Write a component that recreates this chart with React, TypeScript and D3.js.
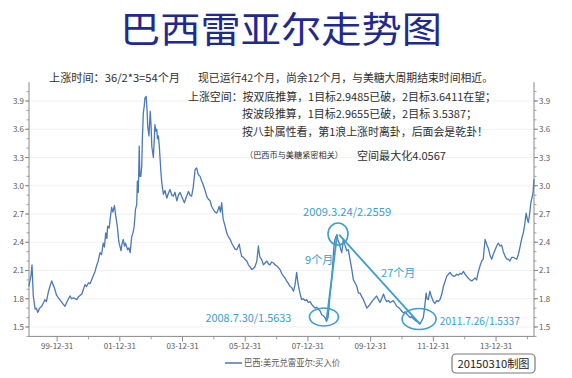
import React from 'react';
import * as d3 from 'd3';

// ---- series: USD/BRL buy rate (decimal year, value) ----
const years = [
  1999.10, 1999.17, 1999.20, 1999.24, 1999.30, 1999.34, 1999.38, 1999.44, 1999.51, 1999.57,
  1999.61, 1999.66, 1999.72, 1999.77, 1999.83, 1999.87, 1999.91, 1999.98, 2000.04, 2000.11,
  2000.20, 2000.25, 2000.32, 2000.41, 2000.46, 2000.52, 2000.63, 2000.68, 2000.79, 2000.84,
  2000.89, 2000.94, 2001.00, 2001.05, 2001.10, 2001.16, 2001.21, 2001.26, 2001.31, 2001.37,
  2001.42, 2001.47, 2001.51, 2001.55, 2001.59, 2001.61, 2001.66, 2001.69, 2001.74, 2001.78,
  2001.83, 2001.87, 2001.90, 2001.93, 2001.96, 2001.98, 2002.04, 2002.07, 2002.11, 2002.15,
  2002.18, 2002.25, 2002.29, 2002.33, 2002.38, 2002.42, 2002.46, 2002.50, 2002.54, 2002.56,
  2002.59, 2002.62, 2002.64, 2002.67, 2002.70, 2002.72, 2002.75, 2002.78, 2002.80, 2002.84,
  2002.87, 2002.89, 2002.93, 2002.97, 2003.00, 2003.02, 2003.07, 2003.10, 2003.12, 2003.15,
  2003.18, 2003.20, 2003.23, 2003.26, 2003.28, 2003.31, 2003.34, 2003.39, 2003.44, 2003.50,
  2003.55, 2003.60, 2003.66, 2003.71, 2003.76, 2003.82, 2003.87, 2003.92, 2003.98, 2004.06,
  2004.11, 2004.19, 2004.24, 2004.29, 2004.34, 2004.40, 2004.45, 2004.50, 2004.56, 2004.61,
  2004.66, 2004.72, 2004.77, 2004.82, 2004.88, 2004.93, 2004.98, 2005.04, 2005.09, 2005.13,
  2005.17, 2005.21, 2005.25, 2005.28, 2005.30, 2005.36, 2005.41, 2005.46, 2005.52, 2005.57,
  2005.62, 2005.67, 2005.73, 2005.77, 2005.81, 2005.85, 2005.89, 2005.94, 2005.99, 2006.05,
  2006.10, 2006.15, 2006.21, 2006.26, 2006.31, 2006.37, 2006.42, 2006.44, 2006.47, 2006.52,
  2006.58, 2006.63, 2006.69, 2006.74, 2006.79, 2006.84, 2006.90, 2006.95, 2007.00, 2007.06,
  2007.11, 2007.16, 2007.22, 2007.27, 2007.32, 2007.38, 2007.43, 2007.48, 2007.54, 2007.59,
  2007.64, 2007.68, 2007.72, 2007.76, 2007.80, 2007.85, 2007.91, 2007.96, 2008.01, 2008.07,
  2008.12, 2008.17, 2008.23, 2008.28, 2008.33, 2008.39, 2008.44, 2008.49, 2008.54, 2008.59,
  2008.64, 2008.67, 2008.70, 2008.75, 2008.79, 2008.82, 2008.86, 2008.92, 2008.96, 2009.00,
  2009.04, 2009.08, 2009.13, 2009.17, 2009.24, 2009.29, 2009.34, 2009.40, 2009.45, 2009.50,
  2009.56, 2009.61, 2009.66, 2009.72, 2009.77, 2009.82, 2009.88, 2009.93, 2009.98, 2010.04,
  2010.09, 2010.14, 2010.19, 2010.25, 2010.30, 2010.35, 2010.41, 2010.46, 2010.51, 2010.57,
  2010.62, 2010.67, 2010.72, 2010.78, 2010.83, 2010.88, 2010.94, 2010.99, 2011.04, 2011.10,
  2011.15, 2011.20, 2011.26, 2011.31, 2011.36, 2011.42, 2011.47, 2011.52, 2011.57, 2011.62,
  2011.68, 2011.72, 2011.77, 2011.80, 2011.84, 2011.89, 2011.94, 2012.00, 2012.05, 2012.11,
  2012.16, 2012.21, 2012.27, 2012.32, 2012.37, 2012.43, 2012.48, 2012.53, 2012.59, 2012.64,
  2012.69, 2012.74, 2012.80, 2012.85, 2012.90, 2012.96, 2013.01, 2013.06, 2013.11, 2013.17,
  2013.22, 2013.27, 2013.33, 2013.38, 2013.43, 2013.49, 2013.54, 2013.59, 2013.65, 2013.70,
  2013.75, 2013.81, 2013.86, 2013.91, 2013.97, 2014.02, 2014.07, 2014.13, 2014.18, 2014.23,
  2014.29, 2014.34, 2014.39, 2014.44, 2014.50, 2014.55, 2014.60, 2014.66, 2014.71, 2014.77,
  2014.82, 2014.87, 2014.91, 2014.96, 2015.00, 2015.03, 2015.07, 2015.11, 2015.15, 2015.18,
  2015.21,
];
const usdBrl = [
  1.93, 2.05, 2.16, 1.83, 1.69, 1.70, 1.655, 1.70, 1.72, 1.76,
  1.79, 1.77, 1.87, 1.93, 1.99, 1.95, 1.92, 1.84, 1.81, 1.78,
  1.74, 1.72, 1.77, 1.83, 1.80, 1.81, 1.79, 1.82, 1.85, 1.90,
  1.95, 1.93, 1.97, 1.96, 2.00, 2.05, 2.09, 2.15, 2.20, 2.29,
  2.27, 2.39, 2.35, 2.50, 2.44, 2.57, 2.55, 2.64, 2.77, 2.72,
  2.79, 2.68, 2.62, 2.54, 2.43, 2.39, 2.31, 2.38, 2.43, 2.36,
  2.39, 2.32, 2.34, 2.29, 2.46, 2.50, 2.57, 2.75, 2.80, 3.05,
  2.93, 3.42, 3.10, 3.10, 3.21, 3.50, 3.77, 3.85, 3.93, 3.95,
  3.80, 3.63, 3.53, 3.79, 3.62, 3.42, 3.30, 3.50, 3.65, 3.58,
  3.60, 3.50, 3.53, 3.42, 3.31, 3.15, 3.03, 2.91, 2.95, 2.87,
  2.92, 2.96, 2.90, 2.89, 2.93, 2.84, 2.90, 2.93, 2.88, 2.82,
  2.87, 2.94, 2.90, 2.89, 2.98, 3.17, 3.19, 3.12, 3.10, 3.05,
  3.01, 2.95, 2.89, 2.86, 2.84, 2.78, 2.75, 2.72, 2.71, 2.74,
  2.78, 2.72, 2.82, 2.70, 2.64, 2.57, 2.50, 2.46, 2.43, 2.39,
  2.36, 2.33, 2.32, 2.35, 2.38, 2.30, 2.25, 2.24, 2.22, 2.20,
  2.16, 2.14, 2.11, 2.12, 2.14, 2.20, 2.36, 2.30, 2.24, 2.22,
  2.16, 2.18, 2.20, 2.17, 2.16, 2.19, 2.18, 2.16, 2.15, 2.13,
  2.11, 2.07, 2.04, 2.02, 1.99, 1.96, 1.93, 1.92, 1.88, 1.95,
  2.08, 1.97, 1.90, 1.84, 1.79, 1.80, 1.78, 1.79, 1.76, 1.77,
  1.74, 1.72, 1.70, 1.71, 1.69, 1.67, 1.63, 1.62, 1.60, 1.56,
  1.60, 1.70, 1.83, 1.98, 2.15, 2.32, 2.43, 2.48, 2.42, 2.39,
  2.33, 2.29, 2.43, 2.38, 2.31, 2.32, 2.22, 2.11, 2.00, 1.97,
  1.93, 1.86, 1.86, 1.82, 1.79, 1.75, 1.70, 1.72, 1.74, 1.77,
  1.79, 1.81, 1.83, 1.79, 1.76, 1.80, 1.85, 1.80, 1.77, 1.78,
  1.76, 1.77, 1.78, 1.75, 1.72, 1.71, 1.69, 1.67, 1.65, 1.66,
  1.64, 1.62, 1.60, 1.61, 1.59, 1.57, 1.56, 1.55, 1.53, 1.56,
  1.60, 1.70, 1.86, 1.80, 1.79, 1.88, 1.82, 1.77, 1.75, 1.78,
  1.77, 1.79, 1.85, 1.93, 1.98, 2.04, 2.06, 2.08, 2.05, 2.04,
  2.04, 2.06, 2.05, 2.07, 2.06, 2.09, 2.06, 2.04, 2.02, 2.00,
  1.99, 2.00, 2.02, 2.00, 2.08, 2.15, 2.20, 2.22, 2.43, 2.38,
  2.34, 2.26, 2.22, 2.27, 2.32, 2.36, 2.39, 2.36, 2.37, 2.30,
  2.25, 2.22, 2.22, 2.20, 2.24, 2.24, 2.23, 2.22, 2.27, 2.36,
  2.44, 2.50, 2.58, 2.71, 2.64, 2.61, 2.70, 2.82, 2.88, 2.93,
  3.07,
];

// ---- axes ----
const yTicks = [1.5, 1.8, 2.1, 2.4, 2.7, 3.0, 3.3, 3.6, 3.9];
const yMinorTicks = [1.4, 1.5, 1.6, 1.7, 1.8, 1.9, 2.0, 2.1, 2.2, 2.3, 2.4, 2.5, 2.6, 2.7, 2.8, 2.9, 3.0, 3.1, 3.2, 3.3, 3.4, 3.5, 3.6, 3.7, 3.8, 3.9, 4.0];
const xTickYears = [2000, 2002, 2004, 2006, 2008, 2010, 2012, 2014];
const xTickLabels = ['99-12-31', '01-12-31', '03-12-31', '05-12-31', '07-12-31', '09-12-31', '11-12-31', '13-12-31'];
const xMinorYears = [2001, 2003, 2005, 2007, 2009, 2011, 2013, 2015];

// ---- annotations ----
const turnYears = [2008.59, 2008.93, 2011.57];
const turnValues = [1.5633, 2.48, 1.5337];
const turnLabels = ['2008.7.30/1.5633', '2009.3.24/2.2559', '2011.7.26/1.5337'];
const spanLabels = ['9个月', '27个月'];
const ringYears = [2008.51, 2008.96, 2011.545];
const ringValues = [1.606, 2.487, 1.585];

const title = '巴西雷亚尔走势图';
const notes = [
  '上涨时间：36/2*3=54个月',
  '现已运行42个月，尚余12个月，与美糖大周期结束时间相近。',
  '上涨空间：按双底推算，1目标2.9485已破，2目标3.6411在望；',
  '按波段推算，1目标2.9655已破，2目标 3.5387；',
  '按八卦属性看，第1浪上涨时离卦，后面会是乾卦！',
  '（巴西币与美糖紧密相关）',
  '空间最大化4.0567',
];
const legendLabel = '巴西:美元兑雷亚尔:买入价';
const stamp = '20150310制图';

const W = 572;
const H = 378;
const FONT = '"Noto Sans CJK SC", "Noto Sans", sans-serif';
const LINE = '#4a79b6';
const CYAN = '#3a9fcc';
const AXIS = '#8a8a8a';
const LABEL = '#5a5a5a';

export default function App() {
  const x = d3.scaleLinear().domain([1999.104, 2015.21]).range([29, 534]);
  const y = d3.scaleLinear().domain([1.4, 4.1]).range([336.4, 82.2]);
  const pts = years.map((yr, i) => [yr, usdBrl[i]] as [number, number]);
  const path = d3.line<[number, number]>().x((d) => x(d[0])).y((d) => y(d[1]))(pts) || '';

  const [x0, x1] = x.range();
  const [yb, yt] = y.range();

  const tp = turnYears.map((t, i) => [x(t), y(turnValues[i])]);
  const rings = ringYears.map((t, i) => [x(t), y(ringValues[i])]);
  const ringR = [[14.5, 9], [10, 11], [17, 10.5]];

  const noteStyle = [
    { x: 49, y: 82, len: 131, fs: 11 },
    { x: 198, y: 82, len: 295, fs: 11 },
    { x: 188, y: 100.5, len: 308, fs: 11 },
    { x: 242, y: 117.5, len: 235, fs: 11 },
    { x: 242, y: 135.5, len: 246, fs: 11 },
    { x: 245, y: 158, len: 98, fs: 8 },
    { x: 357, y: 160, len: 89, fs: 11 },
  ];

  return (
    <svg width={W} height={H} style={{ position: 'absolute', left: 0, top: 0, background: '#fff' }} fontFamily={FONT}>
      <rect x={0} y={0} width={W} height={H} fill="#fff" />
      {/* title */}
      <text x={281} y={43} textAnchor="middle" fontSize={36} fill="#1f2a8e" textLength={322} lengthAdjust="spacingAndGlyphs">
        {title}
      </text>

      {/* gridlines */}
      {yTicks.map((v) => (
        <line key={'g' + v} x1={x0} x2={x1} y1={y(v)} y2={y(v)} stroke="#ededed" strokeWidth={0.8} />
      ))}

      {/* axes */}
      <line x1={x0} x2={x0} y1={yt} y2={yb} stroke={AXIS} strokeWidth={1} />
      <line x1={x1} x2={x1} y1={yt} y2={yb} stroke={AXIS} strokeWidth={1} />
      <line x1={x0} x2={x1} y1={yb} y2={yb} stroke={AXIS} strokeWidth={1} />
      {yMinorTicks.map((v) => (
        <g key={'m' + v}>
          <line x1={x0 - 2.5} x2={x0} y1={y(v)} y2={y(v)} stroke={AXIS} strokeWidth={0.8} />
          <line x1={x1} x2={x1 + 2.5} y1={y(v)} y2={y(v)} stroke={AXIS} strokeWidth={0.8} />
        </g>
      ))}
      {yTicks.map((v) => (
        <g key={'t' + v}>
          <line x1={x0 - 4} x2={x0} y1={y(v)} y2={y(v)} stroke={AXIS} strokeWidth={1} />
          <line x1={x1} x2={x1 + 4} y1={y(v)} y2={y(v)} stroke={AXIS} strokeWidth={1} />
          <text x={x0 - 5} y={y(v) + 3} textAnchor="end" fontSize={8} fill={LABEL}>{v.toFixed(1)}</text>
          <text x={x1 + 5} y={y(v) + 3} textAnchor="start" fontSize={8} fill={LABEL}>{v.toFixed(1)}</text>
        </g>
      ))}
      {xMinorYears.map((t) => (
        <line key={'xm' + t} x1={x(t)} x2={x(t)} y1={yb} y2={yb + 3} stroke={AXIS} strokeWidth={0.8} />
      ))}
      {xTickYears.map((t, i) => (
        <g key={'xt' + t}>
          <line x1={x(t)} x2={x(t)} y1={yb} y2={yb + 5} stroke={AXIS} strokeWidth={1} />
          <text x={x(t)} y={yb + 13} textAnchor="middle" fontSize={8} fill={LABEL}>{xTickLabels[i]}</text>
        </g>
      ))}

      {/* series */}
      <path d={path} fill="none" stroke={LINE} strokeWidth={1.3} strokeLinejoin="round" />

      {/* annotation lines and rings */}
      <line x1={tp[0][0]} y1={tp[0][1]} x2={tp[1][0]} y2={tp[1][1]} stroke={CYAN} strokeWidth={1.8} />
      <line x1={tp[1][0] + 2} y1={tp[1][1]} x2={tp[2][0]} y2={tp[2][1]} stroke={CYAN} strokeWidth={1.8} />
      {rings.map((c, i) => (
        <ellipse key={'r' + i} cx={c[0]} cy={c[1]} rx={ringR[i][0]} ry={ringR[i][1]} fill="none" stroke={CYAN} strokeWidth={1.6} />
      ))}
      <text x={tp[0][0] - 121} y={tp[0][1] + 1} fontSize={11} fill={CYAN} textLength={86} lengthAdjust="spacingAndGlyphs">{turnLabels[0]}</text>
      <text x={tp[1][0] - 34} y={tp[1][1] - 19} fontSize={11} fill={CYAN} textLength={88} lengthAdjust="spacingAndGlyphs">{turnLabels[1]}</text>
      <text x={tp[2][0] + 20} y={tp[2][1] + 1} fontSize={11} fill={CYAN} textLength={80} lengthAdjust="spacingAndGlyphs">{turnLabels[2]}</text>
      <text x={tp[1][0] - 32} y={tp[1][1] + 29} fontSize={11} fill={CYAN}>{spanLabels[0]}</text>
      <text x={tp[1][0] + 44} y={tp[1][1] + 42} fontSize={11} fill={CYAN}>{spanLabels[1]}</text>

      {/* notes */}
      {notes.map((n, i) => (
        <text key={'n' + i} x={noteStyle[i].x} y={noteStyle[i].y} fontSize={noteStyle[i].fs} fill="#2e2e2e" textLength={noteStyle[i].len} lengthAdjust="spacingAndGlyphs">
          {n}
        </text>
      ))}

      {/* legend */}
      <line x1={225} x2={242} y1={363} y2={363} stroke={LINE} strokeWidth={1.5} />
      <text x={244} y={366} fontSize={9} fill={LABEL} textLength={96} lengthAdjust="spacingAndGlyphs">{legendLabel}</text>

      {/* stamp */}
      <rect x={452} y={354} width={83} height={19} rx={4} fill="#fff" stroke="#7a7a7a" strokeWidth={1.2} />
      <text x={493.5} y={367.5} textAnchor="middle" fontSize={11} fill="#222" textLength={72} lengthAdjust="spacingAndGlyphs">{stamp}</text>
    </svg>
  );
}
